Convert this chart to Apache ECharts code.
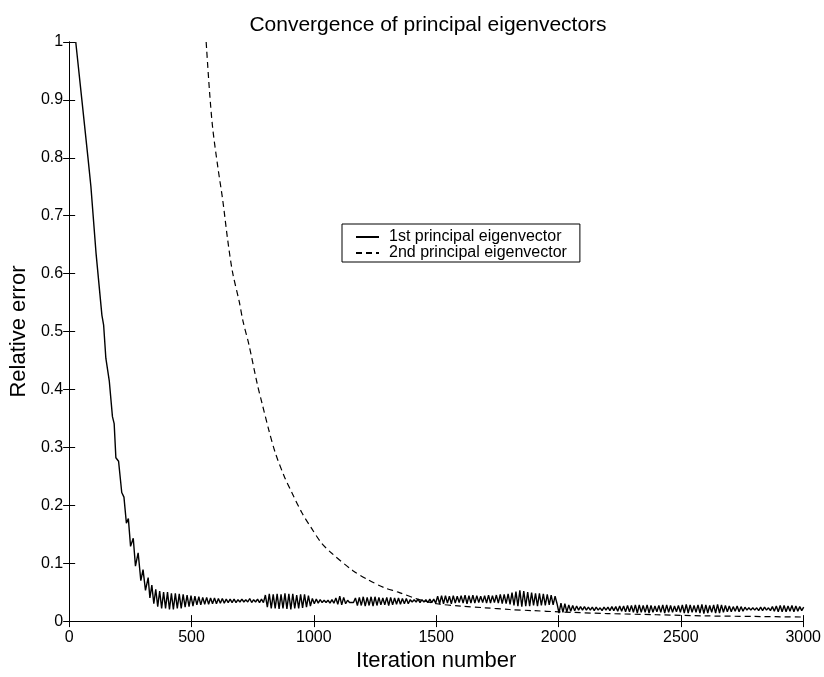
<!DOCTYPE html>
<html>
<head>
<meta charset="utf-8">
<script src="https://cdn.jsdelivr.net/npm/echarts@6/dist/echarts.min.js"></script>
<style>
  html, body { margin: 0; padding: 0; background: #fff; }
  #main { width: 824px; height: 677px; }
</style>
</head>
<body>
<div id="main"></div>
<script>
// 1st eigenvector, steep early part read point by point
const iter1Head = [27, 52, 77, 89, 110, 134, 141, 150, 164, 177, 184, 191, 202, 215, 224, 234, 242, 251, 262, 271, 282, 293, 302, 312, 323];
const err1Head = [1.0, 0.9, 0.8, 0.75, 0.635, 0.528, 0.511, 0.454, 0.415, 0.353, 0.341, 0.282, 0.276, 0.222, 0.214, 0.169, 0.177, 0.129, 0.143, 0.095, 0.118, 0.07, 0.089, 0.053, 0.075];

// oscillating tail, one value every 8 iterations from 330
const tailStart = 330;
const tailStep = 8;
const err1Tail = [
  0.040, 0.062, 0.030, 0.055, 0.025, 0.052, 0.022, 0.050, 0.022, 0.050,
  0.020, 0.048, 0.020, 0.048, 0.022, 0.047, 0.022, 0.046, 0.024, 0.045,
  0.025, 0.044, 0.026, 0.043, 0.028, 0.042, 0.028, 0.041, 0.029, 0.041,
  0.029, 0.040, 0.030, 0.040, 0.030, 0.039, 0.031, 0.039, 0.031, 0.038,
  0.032, 0.038, 0.032, 0.038, 0.032, 0.037, 0.033, 0.038, 0.033, 0.037,
  0.033, 0.039, 0.032, 0.037, 0.033, 0.038, 0.032, 0.038, 0.032, 0.045,
  0.024, 0.047, 0.022, 0.046, 0.022, 0.047, 0.021, 0.046, 0.022, 0.048,
  0.021, 0.047, 0.020, 0.047, 0.022, 0.045, 0.022, 0.046, 0.023, 0.046,
  0.024, 0.044, 0.026, 0.039, 0.030, 0.038, 0.031, 0.037, 0.032, 0.036,
  0.032, 0.036, 0.031, 0.037, 0.031, 0.040, 0.029, 0.043, 0.028, 0.041,
  0.030, 0.036, 0.032, 0.035, 0.032, 0.040, 0.027, 0.041, 0.027, 0.042,
  0.026, 0.041, 0.027, 0.042, 0.026, 0.042, 0.027, 0.041, 0.028, 0.040,
  0.028, 0.041, 0.027, 0.041, 0.028, 0.040, 0.029, 0.040, 0.029, 0.039,
  0.030, 0.039, 0.030, 0.037, 0.033, 0.037, 0.033, 0.038, 0.032, 0.037,
  0.033, 0.037, 0.032, 0.038, 0.032, 0.038, 0.031, 0.043, 0.030, 0.044,
  0.030, 0.044, 0.031, 0.043, 0.030, 0.044, 0.031, 0.043, 0.032, 0.044,
  0.031, 0.045, 0.030, 0.044, 0.031, 0.045, 0.031, 0.044, 0.032, 0.043,
  0.032, 0.044, 0.031, 0.045, 0.031, 0.044, 0.032, 0.045, 0.031, 0.046,
  0.030, 0.046, 0.030, 0.047, 0.029, 0.049, 0.027, 0.051, 0.026, 0.053,
  0.025, 0.052, 0.026, 0.050, 0.026, 0.049, 0.027, 0.048, 0.026, 0.048,
  0.027, 0.047, 0.027, 0.046, 0.028, 0.045, 0.028, 0.043, 0.030, 0.014,
  0.031, 0.015, 0.030, 0.016, 0.028, 0.017, 0.027, 0.018, 0.026, 0.019,
  0.025, 0.019, 0.025, 0.019, 0.024, 0.019, 0.024, 0.018, 0.024, 0.019,
  0.023, 0.018, 0.024, 0.019, 0.024, 0.018, 0.025, 0.018, 0.025, 0.017,
  0.026, 0.017, 0.026, 0.016, 0.027, 0.016, 0.027, 0.015, 0.028, 0.014,
  0.028, 0.015, 0.027, 0.015, 0.028, 0.014, 0.027, 0.015, 0.026, 0.016,
  0.027, 0.015, 0.028, 0.014, 0.028, 0.015, 0.027, 0.015, 0.026, 0.016,
  0.027, 0.015, 0.028, 0.014, 0.029, 0.014, 0.028, 0.015, 0.027, 0.015,
  0.028, 0.014, 0.029, 0.013, 0.028, 0.014, 0.027, 0.015, 0.028, 0.014,
  0.029, 0.014, 0.028, 0.015, 0.027, 0.016, 0.026, 0.016, 0.025, 0.017,
  0.026, 0.016, 0.025, 0.017, 0.024, 0.019, 0.023, 0.019, 0.023, 0.019,
  0.023, 0.018, 0.024, 0.018, 0.024, 0.019, 0.023, 0.018, 0.025, 0.017,
  0.026, 0.016, 0.027, 0.016, 0.027, 0.016, 0.026, 0.017, 0.027, 0.016,
  0.026, 0.017, 0.025, 0.018, 0.024
];

// 2nd eigenvector
const iter2 = [560, 574, 587, 608, 628, 648, 668, 695, 711, 735, 769, 789, 816, 843, 878, 910, 950, 991, 1031, 1071, 1160, 1219, 1286, 1345, 1421, 1502, 1600, 1700, 1800, 1900, 2000, 2200, 2400, 2600, 2800, 3000];
const err2 = [1.0, 0.913, 0.85, 0.783, 0.726, 0.658, 0.602, 0.552, 0.517, 0.477, 0.409, 0.375, 0.33, 0.29, 0.251, 0.222, 0.188, 0.16, 0.135, 0.118, 0.087, 0.072, 0.058, 0.05, 0.0385, 0.03, 0.026, 0.023, 0.02, 0.018, 0.016, 0.013, 0.011, 0.009, 0.008, 0.007];

const seriesNames = ['1st principal eigenvector', '2nd principal eigenvector'];

const data1 = iter1Head.map((x, i) => [x, err1Head[i]])
  .concat(err1Tail.map((v, i) => [tailStart + i * tailStep, v]));
const data2 = iter2.map((x, i) => [x, err2[i]]);

const FONT = "'Liberation Sans', Arial, Helvetica, sans-serif";

const chart = echarts.init(document.getElementById('main'), null, { renderer: 'canvas' });

const boxAxis = {
  min: 0,
  axisLine: { show: true, lineStyle: { color: '#000', width: 1 } },
  axisTick: { show: true, inside: true, length: 6, lineStyle: { color: '#000' } },
  axisLabel: { show: false },
  splitLine: { show: false }
};

chart.setOption({
  backgroundColor: '#fff',
  animation: false,
  title: {
    text: 'Convergence of principal eigenvectors',
    left: 423,
    top: 10,
    textAlign: 'center',
    textStyle: { fontFamily: FONT, fontSize: 21, fontWeight: 'normal', color: '#000' }
  },
  grid: { left: 61, right: 20, top: 42, bottom: 46 },
  legend: {
    orient: 'vertical',
    left: 342,
    top: 224,
    padding: [5, 13, 1, 13],
    itemGap: 0,
    itemWidth: 23,
    itemHeight: 12,
    borderColor: '#000',
    borderWidth: 1,
    borderRadius: 0,
    data: seriesNames,
    // hide the marker dot, keep only the line sample
    itemStyle: { color: 'rgba(0,0,0,0)', borderWidth: 0, opacity: 0 },
    textStyle: { fontFamily: FONT, fontSize: 16, color: '#000', lineHeight: 15, padding: [0, 0, 0, 5] }
  },
  xAxis: [
    {
      type: 'value',
      min: 0,
      max: 3000,
      interval: 500,
      name: 'Iteration number',
      nameLocation: 'middle',
      nameGap: 27,
      nameTextStyle: { fontFamily: FONT, fontSize: 22, color: '#000' },
      axisLine: { show: true, onZero: false, lineStyle: { color: '#000', width: 1 } },
      axisTick: { show: true, inside: true, length: 6, lineStyle: { color: '#000' } },
      axisLabel: { margin: 8, fontFamily: FONT, fontSize: 16, color: '#000', formatter: v => String(v) },
      splitLine: { show: false }
    },
    Object.assign({}, boxAxis, { type: 'value', position: 'top', max: 3000, interval: 500 })
  ],
  yAxis: [
    {
      type: 'value',
      min: 0,
      max: 1,
      interval: 0.1,
      name: 'Relative error',
      nameLocation: 'middle',
      nameGap: 34,
      nameTextStyle: { fontFamily: FONT, fontSize: 22, color: '#000' },
      axisLine: { show: true, onZero: false, lineStyle: { color: '#000', width: 1 } },
      axisTick: { show: true, inside: true, length: 6, lineStyle: { color: '#000' } },
      axisLabel: { margin: 6, fontFamily: FONT, fontSize: 16, color: '#000' },
      splitLine: { show: false }
    },
    Object.assign({}, boxAxis, { type: 'value', position: 'right', max: 1, interval: 0.1 })
  ],
  series: [
    {
      name: seriesNames[0],
      type: 'line',
      xAxisIndex: 0,
      yAxisIndex: 0,
      data: data1,
      symbol: 'none',
      clip: true,
      lineStyle: { color: '#000', width: 1.4 },
      itemStyle: { color: '#000' }
    },
    {
      name: seriesNames[1],
      type: 'line',
      xAxisIndex: 0,
      yAxisIndex: 0,
      data: data2,
      symbol: 'none',
      smooth: 0.3,
      clip: true,
      lineStyle: { color: '#000', width: 1.2, type: [6, 4] },
      itemStyle: { color: '#000' }
    }
  ]
});
</script>
</body>
</html>
